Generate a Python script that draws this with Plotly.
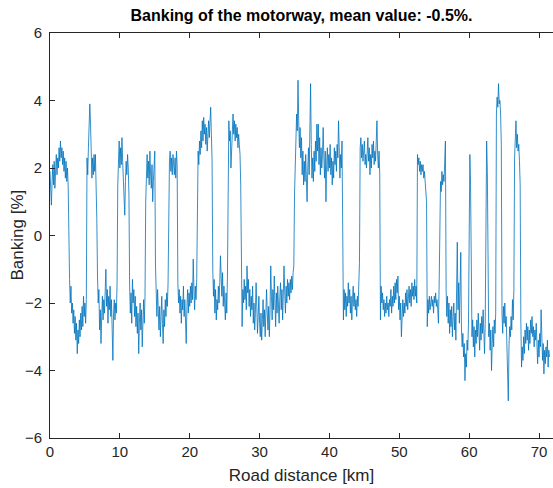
import plotly.graph_objects as go

# Banking [%] sampled every 0.1 km, one row per km (row k = k.0 ... k.9 km)
banking_rows = [
    [1.9, 1.3, 0.9, 1.6, 2.1, 1.5, 2.2, 1.4, 2.0, 2.4],
    [1.8, 2.3, 2.0, 2.6, 2.2, 2.8, 2.3, 2.6, 2.1, 2.5],
    [1.9, 2.3, 1.7, 2.2, 1.6, 2.0, 1.5, -0.8, -1.3, -2.0],
    [-1.5, -2.3, -2.0, -2.6, -2.2, -2.9, -2.4, -3.1, -2.6, -3.5],
    [-2.8, -3.2, -2.5, -3.0, -2.3, -2.8, -2.1, -2.7, -1.8, -2.4],
    [-2.0, -2.6, -1.9, 2.3, 1.8, 2.6, 3.2, 3.9, 3.3, 2.7],
    [1.7, 2.3, 1.8, 2.4, 1.9, 2.4, 1.7, 0.5, -1.2, -2.0],
    [-1.6, -2.8, -2.2, -3.2, -2.4, -1.8, -2.5, -1.9, -2.3, -1.4],
    [-1.0, -2.1, -1.6, -2.6, -1.8, -2.2, -1.5, -2.4, -1.9, -2.8],
    [-3.7, -2.3, -1.9, -2.5, -2.0, -2.3, -1.4, 1.5, 2.3, 2.8],
    [2.0, 2.6, 2.1, 2.9, 2.2, 1.7, 1.2, 0.6, 1.6, 2.2],
    [1.8, 2.4, 2.0, 1.2, -1.5, -2.3, -1.7, -2.6, -1.3, -2.0],
    [-1.6, -2.4, -1.8, -2.7, -2.1, -2.9, -2.3, -3.5, -2.6, -2.0],
    [-2.8, -2.2, -3.3, -2.5, -1.9, -2.6, -1.8, 1.0, 1.9, 2.4],
    [1.7, 2.2, 1.5, 2.5, 1.8, 1.4, 2.1, 1.0, 1.6, 2.3],
    [2.5, -0.9, -1.5, -2.4, -1.6, -2.0, -2.8, -2.1, -3.0, -2.4],
    [-1.8, -2.6, -3.2, -2.2, -2.7, -1.9, -2.4, -1.7, -2.1, -1.4],
    [0.7, 2.2, 2.5, 1.9, 2.3, 1.8, 2.4, 2.0, 1.8, 2.3],
    [1.7, 2.5, 2.1, -1.4, -2.0, -1.6, -2.3, -1.8, -2.6, -1.9],
    [-2.2, -1.5, -2.4, -1.9, -2.7, -3.2, -2.1, -1.6, -2.3, -1.7],
    [-2.1, -1.5, -2.0, -1.4, -1.9, -0.7, -1.6, -2.2, -1.5, -1.9],
    [-1.3, 1.5, 2.5, 2.1, 2.8, 2.4, 3.1, 2.6, 3.4, 2.8],
    [3.5, 3.0, 3.3, 2.7, 3.2, 2.5, 3.0, 3.4, 2.9, 3.6],
    [3.8, 3.0, 2.2, -1.0, -1.8, -1.3, -2.3, -1.6, -2.5, -1.9],
    [-2.2, -1.5, -2.0, -1.4, -0.6, -1.2, -1.8, -1.1, -2.1, -1.5],
    [-1.9, -2.5, -1.7, -2.3, -1.2, 2.0, 3.4, 2.8, 3.1, 2.0],
    [2.7, 3.2, 3.6, 3.0, 3.4, 2.8, 3.3, 2.9, 3.2, 2.6],
    [3.0, 2.7, 2.4, 1.5, -1.2, -2.7, -1.6, -2.0, -1.3, -1.9],
    [-1.5, -2.2, -0.9, -1.7, -1.3, -2.1, -1.6, -2.4, -1.8, -2.2],
    [-1.5, -2.6, -2.0, -2.8, -2.3, -1.4, -2.1, -2.9, -2.4, -1.8],
    [-2.6, -3.0, -2.3, -3.1, -2.5, -1.9, -2.7, -2.2, -3.0, -2.4],
    [-1.6, -2.3, -2.8, -2.1, -3.0, -2.2, -0.9, -1.8, -2.5, -1.6],
    [-2.2, -1.2, -2.0, -2.7, -1.7, -2.3, -1.5, -2.1, -2.6, -1.8],
    [-1.4, -2.2, -1.6, -2.5, -1.9, -0.9, -1.7, -2.3, -1.5, -2.0],
    [-1.3, -1.8, -1.4, -1.9, -1.3, -1.7, -1.2, -1.6, -1.1, -0.9],
    [1.2, 1.9, 2.8, 3.6, 3.1, 4.6, 3.4, 2.6, 3.2, 2.3],
    [2.9, 1.8, 2.5, 1.5, 2.2, 1.6, 2.4, 1.2, 1.0, 2.0],
    [2.6, 1.8, 3.0, 4.5, 2.7, 1.7, 2.3, 1.6, 2.5, 1.9],
    [2.8, 2.2, 3.3, 2.5, 3.3, 2.1, 2.9, 1.8, 2.6, 2.0],
    [2.4, 3.2, 2.3, 1.7, 2.5, 1.0, 2.1, 2.6, 1.9, 2.4],
    [2.0, 2.7, 1.8, 2.3, 1.5, 2.2, 1.7, 2.6, 2.1, 2.5],
    [1.9, 2.7, 2.3, 3.4, 2.6, 1.7, 2.4, 2.0, 2.8, -0.5],
    [-2.5, -1.6, -2.2, -1.7, -2.4, -1.8, -2.1, -1.4, -2.0, -1.6],
    [-2.3, -1.8, -2.5, -1.9, -1.5, -2.1, -1.7, -2.2, -1.9, -2.4],
    [-1.8, -2.1, -1.6, -0.8, 2.6, 2.9, 2.3, 2.7, 2.2, 2.5],
    [2.8, 2.1, 2.4, 2.0, 2.6, 2.9, 2.2, 2.6, 1.8, 2.4],
    [2.0, 2.7, 2.3, 2.8, 2.1, 2.5, 2.2, 2.6, 3.4, 2.4],
    [2.0, 2.5, 1.8, -2.5, -1.5, -2.0, -1.7, -2.2, -1.9, -2.4],
    [-2.0, -2.3, -1.8, -2.2, -2.0, -2.4, -1.9, -2.1, -1.6, -2.3],
    [-1.8, -2.1, -1.5, -2.0, -1.4, -1.9, -1.3, -1.7, -1.2, -2.2],
    [-1.8, -2.5, -2.0, -3.0, -2.2, -1.9, -2.4, -2.0, -2.3, -1.7],
    [-2.1, -1.6, -2.2, -1.8, -1.5, -2.0, -1.6, -2.1, -1.4, -1.8],
    [-1.5, -1.9, -1.3, -1.8, -1.5, -2.0, 2.4, 2.1, 2.3, 1.9],
    [2.2, 1.8, 2.1, 1.9, 2.1, 1.7, 1.9, 1.6, 1.5, 1.0],
    [-2.7, -1.9, -2.3, -1.8, -2.2, -2.0, -1.8, -2.1, -1.9, -2.3],
    [-1.8, -2.0, -1.7, -2.1, -1.9, -2.2, -2.6, -1.5, 1.0, 1.6],
    [1.3, 1.9, 1.5, 1.8, 1.6, 2.0, 2.8, -1.6, -2.4, -1.8],
    [-2.6, -2.0, -2.9, -2.2, -2.7, -2.1, -3.0, -2.4, -2.0, -2.8],
    [-2.3, -3.1, -1.5, -0.2, -2.2, -1.4, -2.6, -1.2, -0.5, -2.8],
    [-3.3, -2.9, -3.6, -3.2, -4.3, -3.5, -3.9, -3.1, -3.4, -2.6],
    [2.0, 2.4, 1.5, -2.4, -3.0, -2.5, -3.3, -2.7, -3.6, -2.8],
    [-3.2, -2.5, -3.0, -2.3, -2.8, -3.4, -2.6, -3.1, -2.4, -2.9],
    [-2.2, -3.0, -3.5, -2.6, 2.0, 2.8, 1.9, -2.4, -3.0, -2.6],
    [-3.4, -2.8, -4.0, -3.2, -2.7, -3.3, -2.5, -2.9, -2.3, 3.6],
    [4.1, 3.8, 4.5, 3.9, 4.0, 3.6, 2.7, -2.3, -2.9, -2.1],
    [-2.6, -2.0, -2.7, -2.4, -3.1, -3.8, -4.9, -3.3, -2.7, -3.0],
    [-2.4, -2.8, -1.9, -2.5, -1.6, 2.3, 2.8, 3.4, 2.6, 3.0],
    [2.5, 2.7, 2.2, 1.5, -2.6, -3.9, -3.3, -3.7, -3.0, -3.5],
    [-2.8, -3.2, -2.6, -3.1, -2.7, -3.4, -2.8, -3.2, -2.5, -2.9],
    [-2.4, -3.0, -2.7, -3.3, -2.8, -3.1, -2.6, -3.4, -3.8, -3.1],
    [-3.6, -2.9, -3.3, -2.2, -3.0, -3.7, -3.2, -4.1, -3.4, -3.8],
    [-3.3, -3.6, -3.1, -3.9, -3.4, -3.6],
]
sample_step_km = 0.1
x_tick_values = [0, 10, 20, 30, 40, 50, 60, 70]
y_tick_values = [-6, -4, -2, 0, 2, 4, 6]

banking = [v for row in banking_rows for v in row]
distance_km = [round(i * sample_step_km, 2) for i in range(len(banking))]

FONT = "Liberation Sans, Arial, Helvetica, sans-serif"
AX = "#262626"

fig = go.Figure(
    go.Scatter(
        x=distance_km, y=banking, mode="lines",
        line=dict(color="#0072BD", width=0.8),
        hoverinfo="skip", showlegend=False,
    )
)

fig.update_layout(
    width=553, height=488,
    margin=dict(l=50, r=0, t=33, b=50),
    paper_bgcolor="white", plot_bgcolor="white",
    font=dict(family=FONT, color=AX),
    title=dict(
        text="Banking of the motorway, mean value: -0.5%.",
        font=dict(family=FONT, size=16, color="black", weight="bold"),
        x=0.5, xref="paper", xanchor="center",
        y=1 - 15 / 488, yref="container", yanchor="middle",
    ),
    annotations=[
        dict(
            text="Banking [%]", textangle=-90,
            xref="paper", yref="paper",
            x=(17 - 50) / 503, y=0.5,
            xanchor="center", yanchor="middle",
            showarrow=False,
            font=dict(family=FONT, size=17, color=AX),
        )
    ],
)
fig.update_xaxes(
    range=[0, 72], tickvals=x_tick_values,
    ticks="inside", ticklen=5, tickcolor=AX, tickwidth=1,
    showline=True, linecolor=AX, linewidth=1, mirror="ticks",
    showgrid=False, zeroline=False,
    tickfont=dict(family=FONT, size=15, color=AX),
    title=dict(text="Road distance [km]", font=dict(family=FONT, size=17, color=AX), standoff=10),
)
fig.update_yaxes(
    range=[-6, 6], tickvals=y_tick_values,
    ticks="inside", ticklen=5, tickcolor=AX, tickwidth=1,
    showline=True, linecolor=AX, linewidth=1, mirror=False,
    showgrid=False, zeroline=False,
    tickfont=dict(family=FONT, size=15, color=AX),
    ticklabelstandoff=4,
)

fig.write_html("out.html")
